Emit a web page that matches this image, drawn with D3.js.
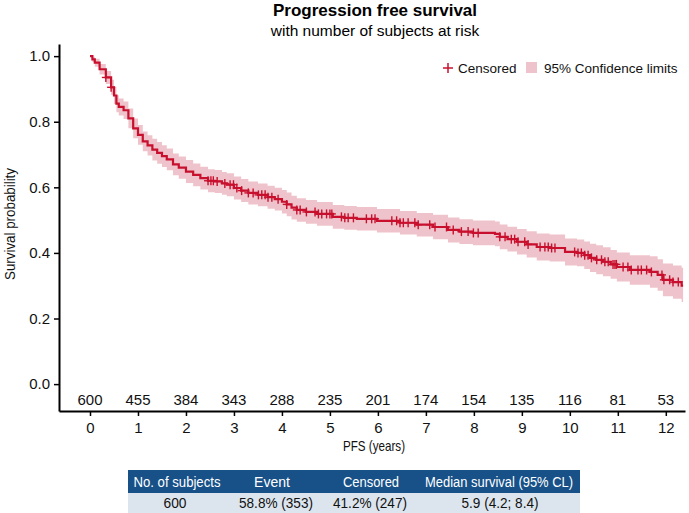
<!DOCTYPE html>
<html>
<head>
<meta charset="utf-8">
<script src="https://cdn.jsdelivr.net/npm/d3@7"></script>
<style>
  body { margin: 0; background: #fff; }
  svg text { font-family: "Liberation Sans", Arial, sans-serif; }
</style>
</head>
<body>
<div id="chart"></div>
<script>
// step points of the Kaplan-Meier estimate (years, survival, 95% limits)
const stepTimes = [0, 0.05, 0.10, 0.20, 0.33, 0.44, 0.50, 0.55, 0.60, 0.70, 0.80, 0.90, 1.00, 1.10, 1.20, 1.30, 1.40, 1.50, 1.60, 1.73, 1.85, 2.00, 2.15, 2.30, 2.46, 2.60, 2.75, 2.85, 3.00, 3.15, 3.30, 3.50, 3.70, 3.85, 4.00, 4.10, 4.20, 4.31, 4.50, 4.73, 5.06, 5.30, 5.56, 5.98, 6.46, 6.81, 7.15, 7.46, 7.70, 7.98, 8.44, 8.54, 8.70, 8.90, 9.10, 9.31, 9.58, 9.90, 10.15, 10.30, 10.42, 10.55, 10.69, 10.85, 10.98, 11.25, 11.67, 11.83, 11.94, 12.15, 12.33, 12.36];
const survival = [1.000, 0.990, 0.980, 0.960, 0.935, 0.905, 0.880, 0.855, 0.845, 0.835, 0.810, 0.780, 0.760, 0.740, 0.728, 0.715, 0.705, 0.695, 0.685, 0.670, 0.660, 0.648, 0.638, 0.628, 0.620, 0.618, 0.612, 0.608, 0.598, 0.590, 0.583, 0.577, 0.570, 0.564, 0.556, 0.548, 0.538, 0.531, 0.525, 0.519, 0.510, 0.507, 0.504, 0.498, 0.492, 0.486, 0.479, 0.470, 0.465, 0.461, 0.458, 0.449, 0.442, 0.434, 0.426, 0.418, 0.415, 0.403, 0.400, 0.393, 0.385, 0.379, 0.373, 0.365, 0.357, 0.348, 0.342, 0.333, 0.318, 0.311, 0.300, 0.300];
const lowerCL = [1.000, 0.982, 0.968, 0.944, 0.915, 0.882, 0.854, 0.829, 0.819, 0.808, 0.780, 0.750, 0.730, 0.710, 0.697, 0.682, 0.672, 0.662, 0.652, 0.637, 0.626, 0.613, 0.603, 0.593, 0.585, 0.583, 0.577, 0.573, 0.563, 0.555, 0.548, 0.542, 0.535, 0.529, 0.520, 0.512, 0.502, 0.495, 0.489, 0.483, 0.474, 0.471, 0.468, 0.462, 0.456, 0.450, 0.442, 0.432, 0.427, 0.423, 0.420, 0.411, 0.404, 0.395, 0.386, 0.377, 0.374, 0.362, 0.359, 0.351, 0.342, 0.335, 0.329, 0.321, 0.313, 0.303, 0.294, 0.285, 0.268, 0.260, 0.250, 0.250];
const upperCL = [1.000, 0.998, 0.992, 0.976, 0.955, 0.928, 0.906, 0.881, 0.871, 0.862, 0.840, 0.810, 0.790, 0.770, 0.759, 0.748, 0.738, 0.728, 0.718, 0.703, 0.694, 0.683, 0.673, 0.663, 0.655, 0.653, 0.647, 0.643, 0.633, 0.625, 0.618, 0.612, 0.605, 0.599, 0.592, 0.584, 0.574, 0.567, 0.561, 0.555, 0.546, 0.543, 0.540, 0.534, 0.528, 0.522, 0.516, 0.508, 0.503, 0.499, 0.496, 0.487, 0.480, 0.473, 0.466, 0.459, 0.456, 0.444, 0.441, 0.435, 0.428, 0.423, 0.417, 0.409, 0.401, 0.393, 0.390, 0.381, 0.368, 0.362, 0.355, 0.355];

// censoring times (years)
const censorTimes = [0.33, 0.44, 2.46, 2.52, 2.57, 2.65, 2.81, 2.92, 2.99, 3.06, 3.16, 3.30, 3.40, 3.51, 3.58, 3.65, 3.71, 3.79, 3.92, 4.10, 4.31, 4.38, 4.51, 4.69, 4.76, 4.83, 4.93, 5.00, 5.04, 5.24, 5.31, 5.38, 5.49, 5.76, 5.87, 5.94, 6.29, 6.39, 6.46, 6.53, 6.63, 6.77, 6.84, 7.08, 7.19, 7.43, 7.57, 7.74, 7.88, 7.99, 8.09, 8.54, 8.65, 8.78, 8.85, 8.92, 9.06, 9.13, 9.38, 9.48, 9.55, 9.62, 9.69, 10.10, 10.17, 10.24, 10.31, 10.38, 10.45, 10.56, 10.66, 10.73, 10.80, 10.90, 10.94, 10.97, 11.11, 11.21, 11.28, 11.42, 11.49, 11.60, 11.70, 11.92, 11.96, 12.08, 12.15, 12.26];

const riskTimes = [0, 1, 2, 3, 4, 5, 6, 7, 8, 9, 10, 11, 12];
const atRisk = [600, 455, 384, 343, 288, 235, 201, 174, 154, 135, 116, 81, 53];

const yTicks = [0, 0.2, 0.4, 0.6, 0.8, 1.0];

const tableHeader = ["No. of subjects", "Event", "Censored", "Median survival (95% CL)"];
const tableRow = ["600", "58.8% (353)", "41.2% (247)", "5.9 (4.2; 8.4)"];

const W = 689, H = 513;
const lineColor = "#c8102e";
const bandColor = "#efc3cb";

const svg = d3.select("#chart").append("svg")
    .attr("width", W)
    .attr("height", H);

const x = d3.scaleLinear().domain([-0.646, 12.4]).range([59, 685]);
const y = d3.scaleLinear().domain([-0.082, 1.037]).range([411, 44]);

// titles
svg.append("text")
    .attr("x", 375).attr("y", 16)
    .attr("text-anchor", "middle")
    .attr("font-size", 17).attr("font-weight", "bold")
    .text("Progression free survival");
svg.append("text")
    .attr("x", 375).attr("y", 36)
    .attr("text-anchor", "middle")
    .attr("font-size", 15.5)
    .text("with number of subjects at risk");

const kmData = stepTimes.map((t, i) => ({ t, s: survival[i], lo: lowerCL[i], hi: upperCL[i] }));

// confidence band
svg.append("path")
    .datum(kmData)
    .attr("fill", bandColor)
    .attr("d", d3.area()
        .curve(d3.curveStepAfter)
        .x(d => x(d.t))
        .y0(d => y(d.lo))
        .y1(d => y(d.hi)));

// survival line
svg.append("path")
    .datum(kmData)
    .attr("fill", "none")
    .attr("stroke", lineColor)
    .attr("stroke-width", 2.2)
    .attr("d", d3.line()
        .curve(d3.curveStepAfter)
        .x(d => x(d.t))
        .y(d => y(d.s)));

// censor marks
const bis = d3.bisector(d => d.t).right;
const survAt = t => kmData[Math.max(0, bis(kmData, t) - 1)].s;
const marks = svg.append("g")
    .attr("stroke", lineColor)
    .attr("stroke-width", 1.4);
censorTimes.forEach(t => {
    const cx = x(t), cy = y(survAt(t));
    marks.append("line").attr("x1", cx).attr("x2", cx).attr("y1", cy - 4.5).attr("y2", cy + 4.5);
    marks.append("line").attr("x1", cx - 4).attr("x2", cx + 4).attr("y1", cy).attr("y2", cy);
});

// axes
const yAxis = svg.append("g")
    .attr("transform", "translate(59,0)")
    .call(d3.axisLeft(y).tickValues(yTicks).tickFormat(d3.format(".1f")).tickSize(5).tickSizeOuter(0).tickPadding(4));
const xAxis = svg.append("g")
    .attr("transform", "translate(0,411)")
    .call(d3.axisBottom(x).tickValues(riskTimes).tickSize(5).tickSizeOuter(0).tickPadding(6));
[yAxis, xAxis].forEach(a => {
    a.select(".domain").attr("stroke-width", 2);
    a.selectAll(".tick line").attr("stroke-width", 1.5);
    a.selectAll(".tick text").attr("font-size", 15).attr("fill", "#111")
        .attr("font-family", "Liberation Sans, Arial, sans-serif");
});

// numbers at risk
svg.append("g").selectAll("text")
    .data(riskTimes)
    .join("text")
    .attr("x", d => x(d))
    .attr("y", 405)
    .attr("text-anchor", "middle")
    .attr("font-size", 15)
    .attr("fill", "#111")
    .text((d, i) => atRisk[i]);

// axis labels (condensed look via textLength)
svg.append("text")
    .attr("x", 374).attr("y", 451)
    .attr("text-anchor", "middle")
    .attr("font-size", 14.5)
    .attr("textLength", 62)
    .attr("lengthAdjust", "spacingAndGlyphs")
    .attr("fill", "#111")
    .text("PFS (years)");
svg.append("text")
    .attr("transform", "translate(15,224) rotate(-90)")
    .attr("text-anchor", "middle")
    .attr("font-size", 15)
    .attr("textLength", 112)
    .attr("lengthAdjust", "spacingAndGlyphs")
    .attr("fill", "#111")
    .text("Survival probability");

// legend
const legend = svg.append("g").attr("font-size", 13.5);
legend.append("line").attr("x1", 443).attr("x2", 453).attr("y1", 68).attr("y2", 68)
    .attr("stroke", lineColor).attr("stroke-width", 1.5);
legend.append("line").attr("x1", 448).attr("x2", 448).attr("y1", 63).attr("y2", 73)
    .attr("stroke", lineColor).attr("stroke-width", 1.5);
legend.append("text").attr("x", 458).attr("y", 73).attr("fill", "#111").text("Censored");
legend.append("rect").attr("x", 526).attr("y", 62).attr("width", 11).attr("height", 11).attr("fill", bandColor);
legend.append("text").attr("x", 544).attr("y", 73).attr("fill", "#111").text("95% Confidence limits");

// summary table
const headCenters = [177, 272, 371, 499];
const headWidths = [87, 41, 56, 148];
const cellCenters = [175, 276, 370, 500];
const cellWidths = [23, 74, 74, 77];
const table = svg.append("g").attr("font-size", 14);
table.append("rect").attr("x", 128).attr("y", 470).attr("width", 452).attr("height", 23).attr("fill", "#175188");
table.append("rect").attr("x", 128).attr("y", 493).attr("width", 452).attr("height", 20).attr("fill", "#dce5ee");

// squeeze a label only if it is wider than in the reference
function fitText(sel, widths) {
    sel.each(function (d, i) {
        if (this.getComputedTextLength() > widths[i]) {
            d3.select(this)
                .attr("textLength", widths[i])
                .attr("lengthAdjust", "spacingAndGlyphs");
        }
    });
}

table.selectAll("text.head")
    .data(tableHeader)
    .join("text")
    .attr("class", "head")
    .attr("x", (d, i) => headCenters[i])
    .attr("y", 487)
    .attr("text-anchor", "middle")
    .attr("fill", "#fff")
    .text(d => d)
    .call(fitText, headWidths);
table.selectAll("text.cell")
    .data(tableRow)
    .join("text")
    .attr("class", "cell")
    .attr("x", (d, i) => cellCenters[i])
    .attr("y", 508)
    .attr("text-anchor", "middle")
    .attr("fill", "#111")
    .text(d => d)
    .call(fitText, cellWidths);
</script>
</body>
</html>
